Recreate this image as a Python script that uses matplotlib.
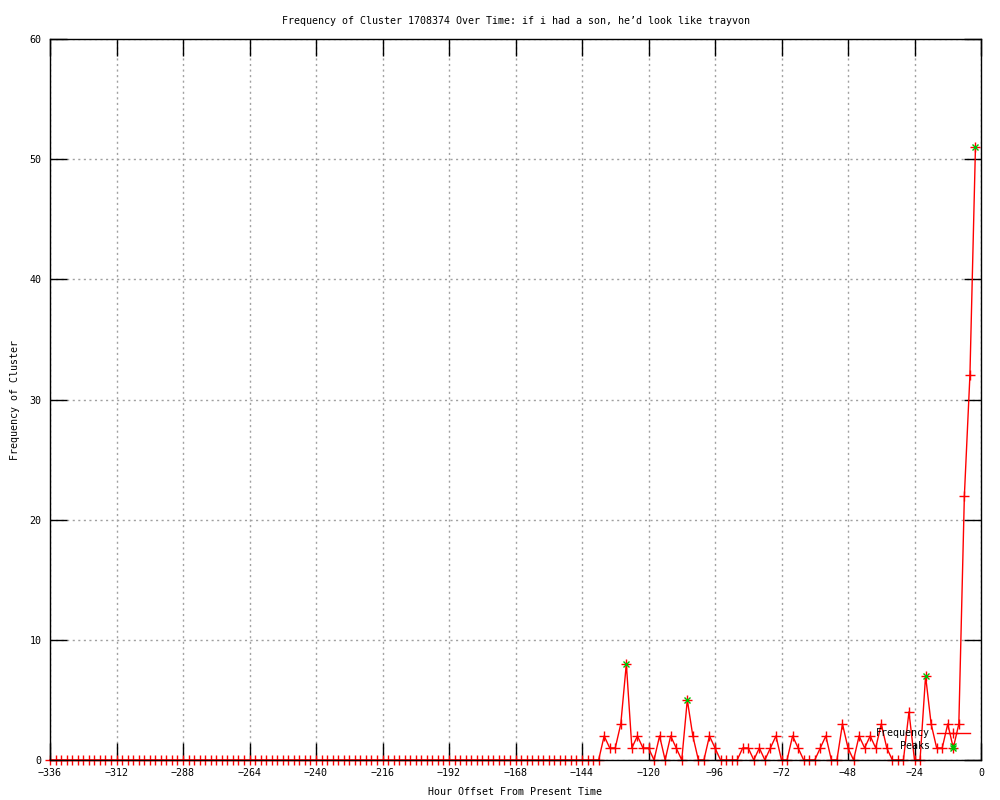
#import
import numpy as np
import matplotlib
matplotlib.use("Agg")
import matplotlib.pyplot as plt

#-------------------------------------------------------------------------------

#data (one sample every 2 hours, -336 .. -2)
hours = list(range(-336, 0, 2))

freq = [0] * 100 + [
    2, 1, 1, 3, 8, 1, 2, 1, 1, 0,      # -136 .. -118
    2, 0, 2, 1, 0, 5, 2, 0, 0, 2,      # -116 .. -98
    1, 0, 0, 0, 0, 1, 1, 0, 1, 0,      # -96 .. -78
    1, 2, 0, 0, 2, 1, 0, 0, 0, 1,      # -76 .. -58
    2, 0, 0, 3, 1, 0, 2, 1, 2, 1,      # -56 .. -38
    3, 1, 0, 0, 0, 4, 0, 0, 7, 3,      # -36 .. -18
    1, 1, 3, 1, 3, 22, 32, 51,         # -16 .. -2
]

peak_hours = [-128, -106, -20, -10, -2]
peak_freq = [8, 5, 7, 1, 51]

title = "Frequency of Cluster 1708374 Over Time: if i had a son, he\u2019d look like trayvon"

#-------------------------------------------------------------------------------

#graphics settings
plt.rcParams['font.family'] = ['DejaVu Sans Mono']
plt.rcParams['font.size'] = 7.2

fig = plt.figure(figsize=(10, 8), dpi=100)
ax = fig.add_axes([0.05, 0.05, 0.931, 0.90125])

ax.plot(hours, freq, color="#ff0000", linewidth=1, marker="+",
        markersize=7, markeredgewidth=1, clip_on=False, zorder=3)
ax.plot(peak_hours, peak_freq, linestyle="none", color="#00c000", marker="x",
        markersize=5, markeredgewidth=1, clip_on=False, zorder=4)

ax.set_xlim(-336, 0)
ax.set_ylim(0, 60)
ax.set_xticks(range(-336, 1, 24))
ax.set_yticks(range(0, 61, 10))

ax.grid(True, color="#a0a0a0", linestyle=(0, (1.5, 2.5)), linewidth=1)
ax.tick_params(direction="in", length=12, width=1, top=True, right=True,
               colors="black", labelsize=7.2)
ax.tick_params(axis="x", pad=6)
ax.tick_params(axis="y", pad=6)
for s in ax.spines.values():
    s.set_linewidth(1)
    s.set_zorder(5)

ax.set_title(title, fontsize=7.2, pad=11)
ax.set_xlabel("Hour Offset From Present Time", fontsize=7.2, labelpad=6)
ax.set_ylabel("Frequency of Cluster", fontsize=7.2, labelpad=7)

#-------------------------------------------------------------------------------

#legend (gnuplot style, text right aligned, key on the right)
ax.text(0.945, 0.0374, "Frequency", transform=ax.transAxes,
        ha="right", va="center", fontsize=7.2, zorder=6)
ax.text(0.945, 0.0194, "Peaks", transform=ax.transAxes,
        ha="right", va="center", fontsize=7.2, zorder=6)
ax.plot([0.953, 0.988], [0.0374, 0.0374], transform=ax.transAxes,
        color="#ff0000", linewidth=1, zorder=6)
ax.plot([0.970], [0.0374], transform=ax.transAxes, color="#ff0000",
        marker="+", markersize=7, linestyle="none", zorder=6)
ax.plot([0.970], [0.0194], transform=ax.transAxes, color="#00c000",
        marker="x", markersize=5, linestyle="none", zorder=6)

#-------------------------------------------------------------------------------

#display
fig.savefig("out.png", dpi=100, facecolor="white")
